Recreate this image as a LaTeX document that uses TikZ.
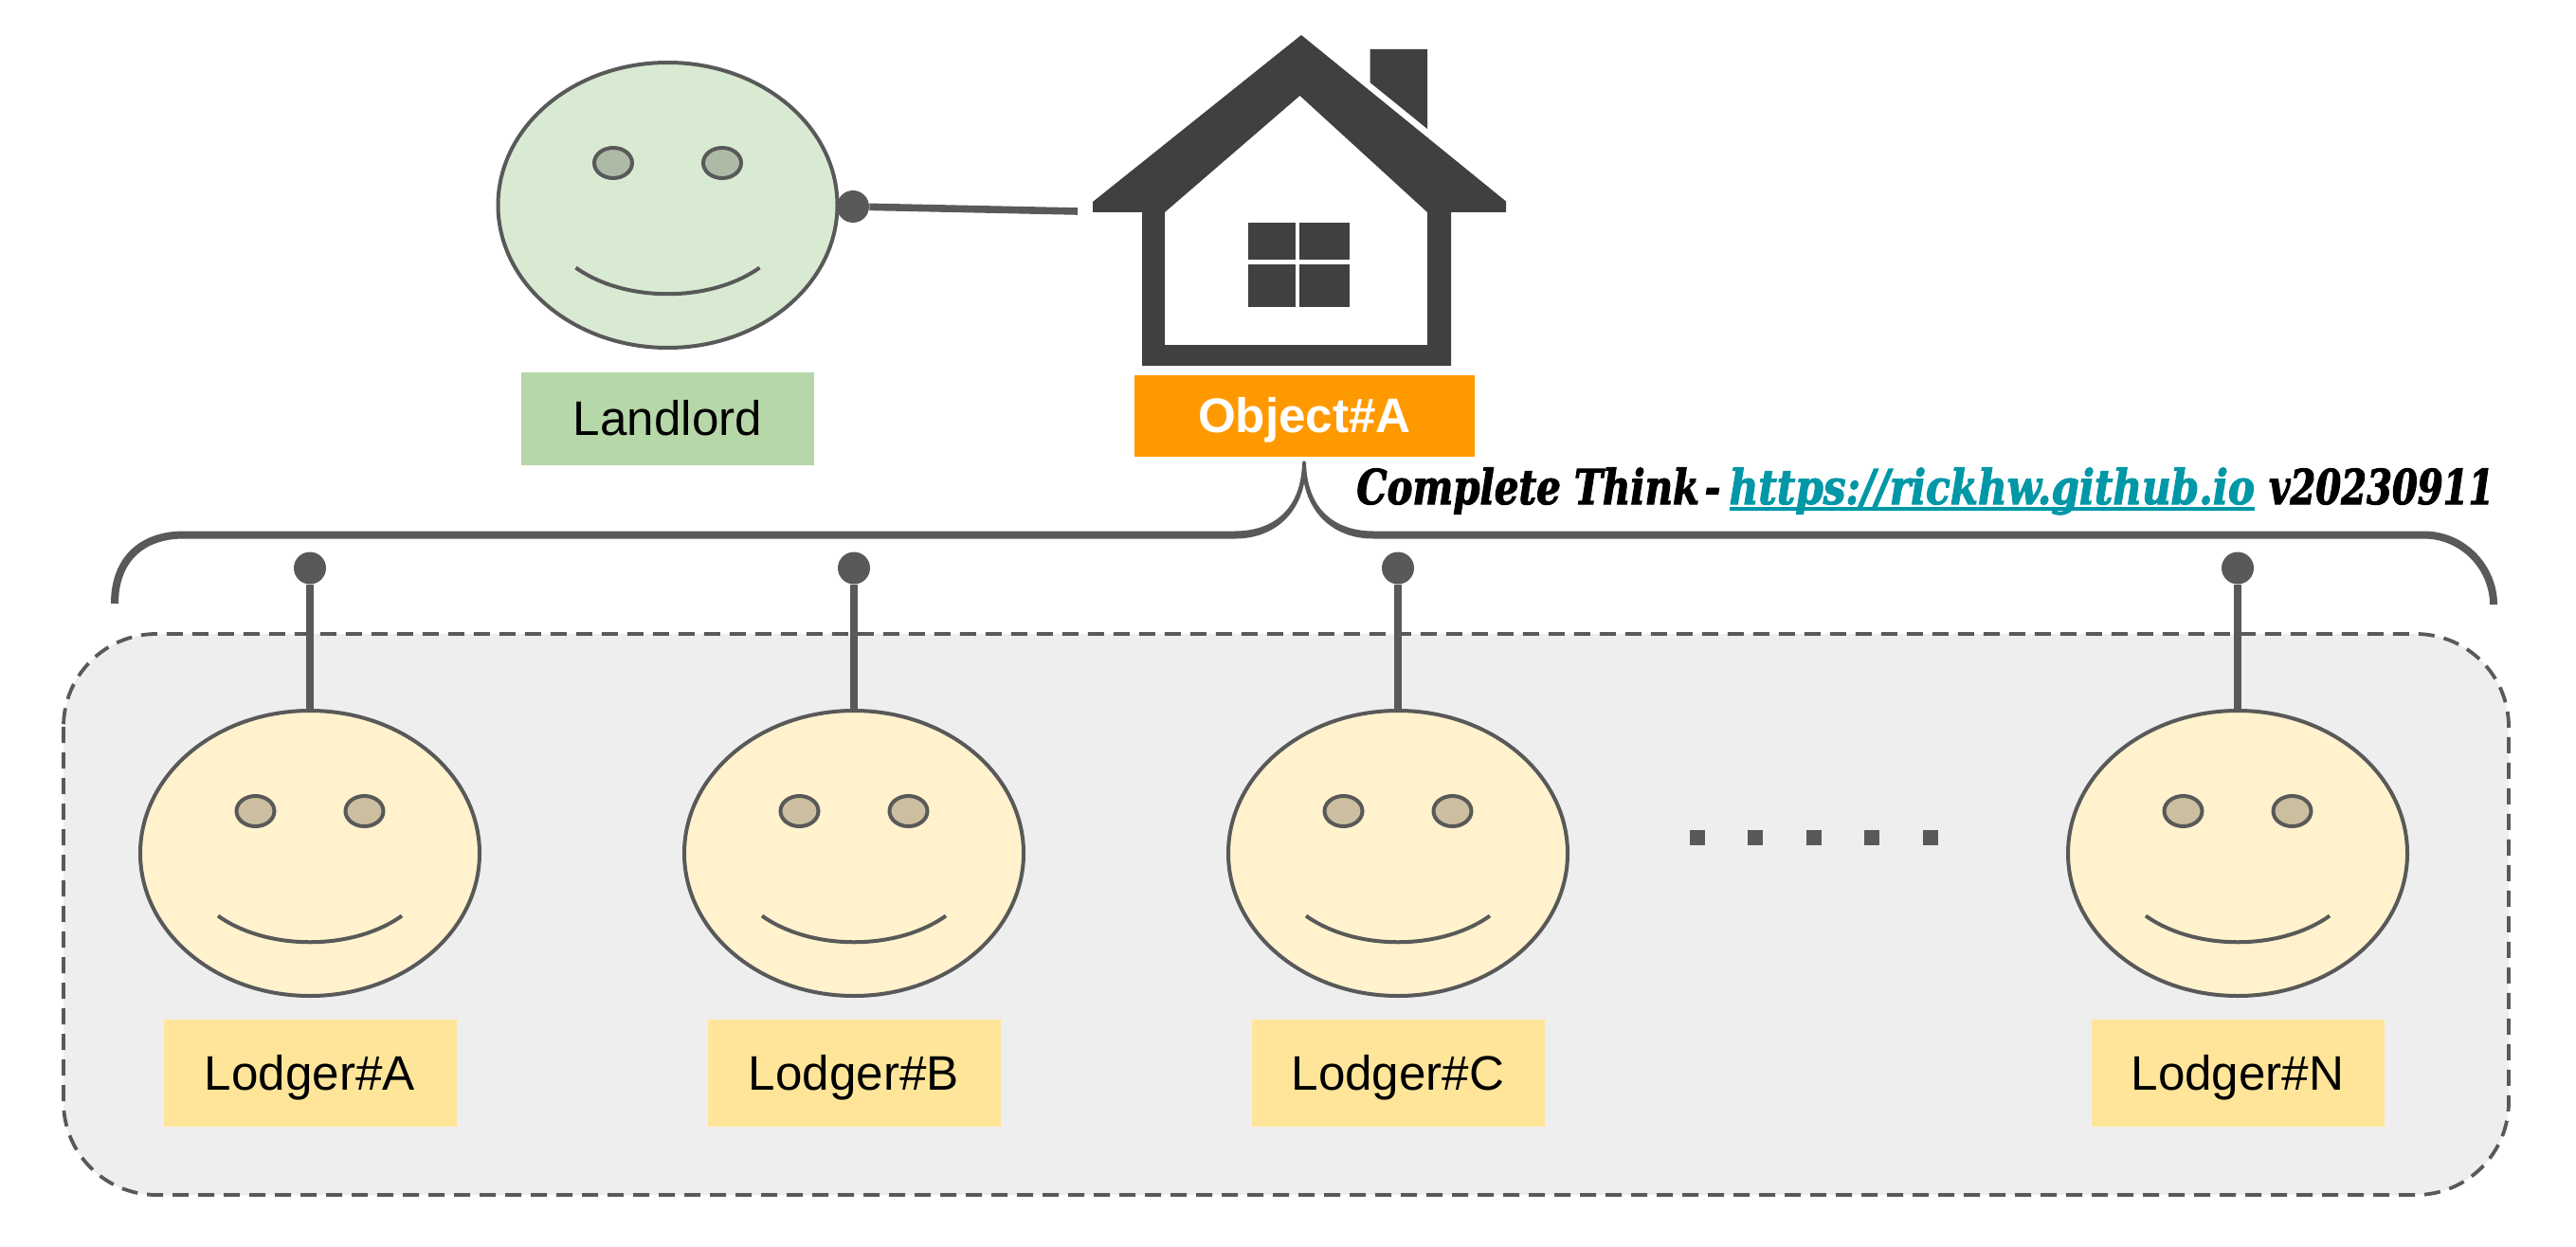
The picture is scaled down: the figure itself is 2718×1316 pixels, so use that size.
\documentclass[tikz,border=0pt]{standalone}
\usepackage{fontspec}
\setmainfont{Liberation Sans}
\newfontfamily\slabfont[FakeStretch=0.795,FakeBold=2]{DejaVu Serif}
\newfontfamily\slablink[FakeStretch=0.83,FakeBold=2]{DejaVu Serif}
\newfontfamily\slabver[FakeStretch=0.76,FakeBold=2]{DejaVu Serif}
\usetikzlibrary{shapes.geometric}
\definecolor{linegray}{HTML}{595959}
\definecolor{housegray}{HTML}{404040}
\definecolor{panelgray}{HTML}{EEEEEE}
\definecolor{landface}{HTML}{D9EAD3}
\definecolor{landeye}{HTML}{ADBAA6}
\definecolor{landlabel}{HTML}{B6D7A8}
\definecolor{lodgeface}{HTML}{FFF2CC}
\definecolor{lodgeeye}{HTML}{CCBF9F}
\definecolor{lodgelabel}{HTML}{FFE599}
\definecolor{objlabel}{HTML}{FF9900}
\definecolor{linkteal}{HTML}{0097A7}
\newsavebox\linkbox
\newcommand{\labelfont}{\fontsize{25.6}{30}\selectfont}
\tikzset{
  facebody/.style={ellipse,draw=linegray,line width=2pt,inner sep=0pt,minimum width=179pt,minimum height=150.5pt},
  eyeshape/.style={ellipse,draw=linegray,line width=2pt,inner sep=0pt,minimum width=20pt,minimum height=16pt},
  smileline/.style={draw=linegray,line width=2pt},
  labelbox/.style={rectangle,inner sep=0pt,minimum width=154.5pt,minimum height=56.5pt,font=\labelfont,text=black,text height=18.3pt,text depth=0pt},
  pindot/.style={circle,fill=linegray,inner sep=0pt,minimum size=17pt},
  pinline/.style={draw=linegray,line width=3.8pt},
  ellipsisdot/.style={rectangle,fill=linegray,inner sep=0pt,minimum size=8pt},
  housepart/.style={fill=housegray,draw=none},
}
% #1 name, #2 x, #3 y, #4 face fill, #5 eye fill
\newcommand{\smiley}[5]{%
  \node[facebody,fill=#4] (#1) at (#2,#3) {};
  \node[eyeshape,fill=#5] (#1eyeL) at (#2-57.5,#3-44.5) {};
  \node[eyeshape,fill=#5] (#1eyeR) at (#2+57.5,#3-44.5) {};
  \coordinate (#1smileL) at (#2-97,#3+66);
  \coordinate (#1smileR) at (#2+97,#3+66);
  \draw[smileline] (#1smileL) .. controls (#2-45,#3+103) and (#2+45,#3+103) .. (#1smileR);
}
\newcommand{\lodger}[3]{%
  \node[pindot] (pin#1) at (#2,599.5) {};
  \smiley{face#1}{#2}{900.5}{lodgeface}{lodgeeye}
  \draw[pinline] (pin#1) -- (face#1.north);
  \node[labelbox,fill=lodgelabel] (label#1) at (#2,1132.5) {#3};
}
\begin{document}
\begin{tikzpicture}[x=0.5pt,y=-0.5pt]
\useasboundingbox (0,0) rectangle (2718,1316);
% lodger panel
\draw[draw=linegray,fill=panelgray,line width=1.9pt,dash pattern=on 8.5pt off 5pt,rounded corners=49pt] (67,669) rectangle (2647,1261);
% brace
\coordinate (braceL) at (121,637);
\coordinate (braceLin) at (1303,564.5);
\coordinate (braceRin) at (1449,564.5);
\coordinate (braceR) at (2631,638);
\draw[draw=linegray,line width=4pt]
  (braceL) .. controls (121,590) and (150,564.5) .. (194,564.5) -- (braceLin);
\draw[draw=linegray,line width=4pt]
  (braceRin) -- (2557,564.5) .. controls (2600,564.5) and (2631,600) .. (braceR);
\fill[linegray] (1303,560.5) .. controls (1343,560.5) and (1373,538) .. (1374,488)
  .. controls (1374.5,485.5) and (1377.5,485.5) .. (1378,488)
  .. controls (1379,538) and (1409,560.5) .. (1449,560.5) -- (1449,568.5)
  .. controls (1410,568.5) and (1383,545) .. (1376,510)
  .. controls (1369,545) and (1342,568.5) .. (1303,568.5) -- cycle;
% lodgers
\lodger{A}{327}{Lodger\#A}
\lodger{B}{901}{Lodger\#B}
\lodger{C}{1475}{Lodger\#C}
\lodger{N}{2361}{Lodger\#N}
% ellipsis
\foreach \px/\nm in {1790.5/a,1852/b,1913.5/c,1975/d,2036.5/e}
  \node[ellipsisdot] (dot\nm) at (\px,884) {};
% landlord
\smiley{faceLand}{704.5}{216.5}{landface}{landeye}
\node[labelbox,fill=landlabel,minimum height=49pt] (labelLand) at (704.5,441.5) {Landlord};
\node[pindot] (pinLand) at (900,218) {};
\coordinate (houseDoor) at (1137,223);
\draw[pinline] (pinLand) -- (houseDoor);
% house
\fill[housepart,even odd rule]
  (1373,37) -- (1589,212.5) -- (1589,224) -- (1531,224) -- (1531,386) -- (1205,386) -- (1205,224) -- (1153,224) -- (1153,213) -- cycle
  (1371.5,101) -- (1506,224) -- (1506,364) -- (1229,364) -- (1229,224) -- cycle;
\fill[housepart] (1445.5,52) -- (1506,52) -- (1506,136) -- (1445.5,87) -- cycle;
\fill[housepart] (1317,235) rectangle (1367,274);
\fill[housepart] (1371,235) rectangle (1424,274);
\fill[housepart] (1317,279) rectangle (1367,324);
\fill[housepart] (1371,279) rectangle (1424,324);
% object label
\node[labelbox,fill=objlabel,minimum width=179.5pt,minimum height=43pt,text=white,font=\labelfont\bfseries] (labelObj) at (1376.5,438.5) {Object\#A};
% banner
\node[anchor=base west,inner sep=0pt,text=black] (banner) at (1431,532) {\fontsize{25.4}{30}\selectfont\slabfont\bfseries\itshape
  \sbox\linkbox{\slablink\bfseries\itshape\color{linkteal}https://rickhw.github.io}Complete Think \hspace{-4.2pt}- \hspace{-2.4pt}{\color{linkteal}\rlap{\rule[-3.6pt]{\wd\linkbox}{2.2pt}}}\usebox\linkbox{} \hspace{0.5pt}{\slabver\bfseries\itshape v20230911}};
\end{tikzpicture}
\end{document}
